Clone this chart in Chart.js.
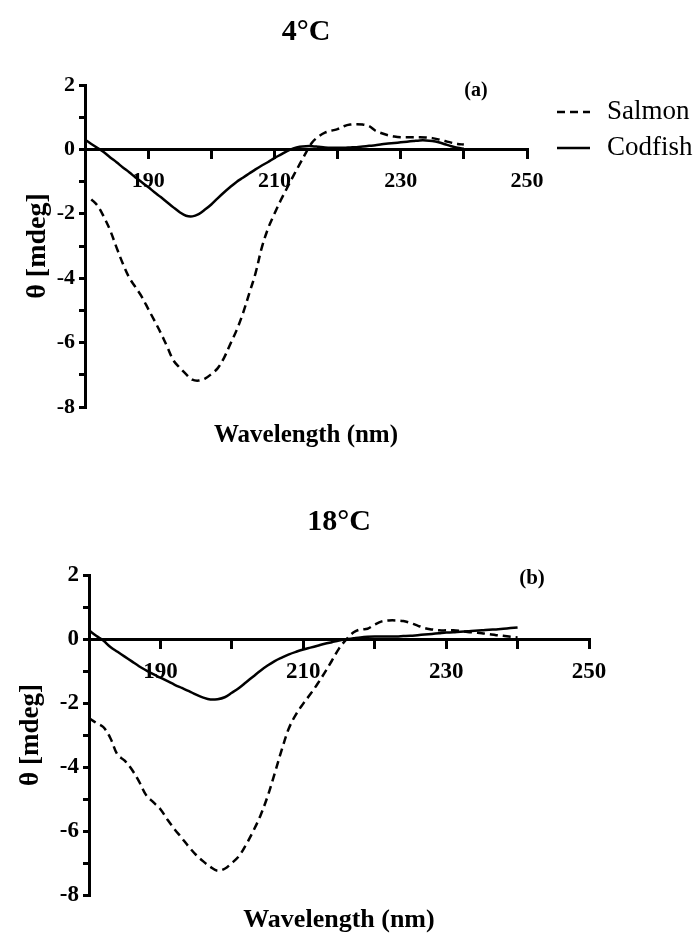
<!DOCTYPE html>
<html><head><meta charset="utf-8">
<script src="https://cdn.jsdelivr.net/npm/chart.js@4.4.1/dist/chart.umd.min.js"></script>
<style>
html,body{margin:0;padding:0;background:#fff;}
#wrap{position:relative;width:697px;height:936px;overflow:hidden;}
canvas{position:absolute;left:0;}
#c1{top:0;}
#c2{top:470px;}
</style></head><body>
<div id="wrap"><canvas id="c1" width="697" height="470"></canvas><canvas id="c2" width="697" height="466"></canvas></div>
<script>
// ---- data ----
const wavelengths = [180,181,182,183,184,185,186,187,188,189,190,191,192,193,194,195,196,197,198,199,200,201,202,203,204,205,206,207,208,209,210,211,212,213,214,215,216,217,218,219,220,221,222,223,224,225,226,227,228,229,230,231,232,233,234,235,236,237,238,239,240];
const salmon4 = [null,-1.55,-1.75,-2.10,-2.52,-3.05,-3.55,-3.98,-4.28,-4.58,-4.95,-5.32,-5.70,-6.12,-6.55,-6.78,-6.98,-7.15,-7.18,-7.12,-6.98,-6.80,-6.48,-6.05,-5.62,-5.10,-4.48,-3.85,-3.05,-2.45,-2.00,-1.58,-1.20,-0.82,-0.46,-0.10,0.22,0.40,0.52,0.58,0.63,0.72,0.77,0.78,0.77,0.72,0.58,0.50,0.44,0.40,0.38,0.38,0.38,0.38,0.37,0.35,0.31,0.26,0.21,0.17,0.15];
const codfish4 = [0.30,0.17,0.04,-0.09,-0.25,-0.40,-0.56,-0.71,-0.87,-1.02,-1.17,-1.33,-1.48,-1.64,-1.80,-1.95,-2.06,-2.08,-2.01,-1.87,-1.71,-1.52,-1.34,-1.17,-1.01,-0.88,-0.75,-0.62,-0.50,-0.39,-0.27,-0.16,-0.05,0.03,0.08,0.10,0.10,0.08,0.06,0.05,0.05,0.05,0.06,0.07,0.09,0.11,0.13,0.16,0.18,0.20,0.22,0.24,0.26,0.28,0.28,0.26,0.22,0.16,0.10,0.05,0.02];
const salmon18 = [-2.47,-2.62,-2.75,-3.10,-3.62,-3.80,-4.08,-4.45,-4.88,-5.10,-5.32,-5.65,-5.95,-6.22,-6.50,-6.75,-6.95,-7.12,-7.24,-7.18,-7.00,-6.78,-6.42,-6.00,-5.52,-4.92,-4.20,-3.45,-2.78,-2.35,-2.02,-1.72,-1.40,-1.05,-0.68,-0.30,-0.02,0.20,0.30,0.32,0.45,0.55,0.58,0.58,0.56,0.50,0.42,0.34,0.30,0.27,0.27,0.27,0.25,0.22,0.20,0.18,0.15,0.12,0.10,0.07,0.05];
const codfish18 = [0.27,0.10,-0.05,-0.25,-0.40,-0.55,-0.70,-0.85,-0.98,-1.10,-1.21,-1.32,-1.43,-1.53,-1.63,-1.74,-1.83,-1.89,-1.88,-1.82,-1.68,-1.53,-1.35,-1.17,-0.99,-0.83,-0.69,-0.58,-0.48,-0.40,-0.33,-0.27,-0.21,-0.15,-0.10,-0.05,-0.01,0.02,0.05,0.07,0.08,0.08,0.08,0.08,0.09,0.10,0.12,0.14,0.16,0.18,0.20,0.21,0.23,0.24,0.26,0.27,0.29,0.30,0.32,0.34,0.36];
const seriesNames = ['Salmon','Codfish'];
const xTickLabels = [190,210,230,250];
const yTickLabels = [2,0,-2,-4,-6,-8];
const panelTitles = ['4°C','18°C'];
const panelTags = ['(a)','(b)'];
const xTitle = 'Wavelength (nm)';
const yTitle = 'θ [mdeg]';

const FAM = "'Liberation Serif', 'Times New Roman', serif";
Chart.defaults.font.family = FAM;
Chart.defaults.color = '#000';

const annotate = {
  id: 'annotate',
  afterDraw(chart, args, opts) {
    const ctx = chart.ctx;
    ctx.save();
    ctx.fillStyle = '#000';
    (opts.texts || []).forEach(t => {
      ctx.font = t.font; ctx.textAlign = 'center'; ctx.textBaseline = 'middle';
      ctx.fillText(t.text, t.x, t.y);
    });
    if (opts.legend) {
      const L = opts.legend;
      chart.data.datasets.forEach((ds, i) => {
        const y = L.y + i * L.gap;
        ctx.beginPath();
        ctx.setLineDash(ds.borderDash || []);
        ctx.lineWidth = ds.borderWidth;
        ctx.strokeStyle = ds.borderColor;
        ctx.moveTo(L.x, y); ctx.lineTo(L.x + L.len, y); ctx.stroke();
        ctx.setLineDash([]);
        ctx.font = L.font; ctx.textAlign = 'left'; ctx.textBaseline = 'middle';
        ctx.fillText(ds.label, L.x + L.len + L.textGap, y);
      });
    }
    ctx.restore();
  }
};

function toXY(ys) { return wavelengths.map((w, i) => ({x: w, y: ys[i]})); }

function makeChart(el, salmon, codfish, g) {
  return new Chart(el, {
    type: 'line',
    data: {
      datasets: [
        {label: seriesNames[0], data: toXY(salmon), borderColor: '#000', borderWidth: 2.5, borderDash: [8,5], pointRadius: 0, tension: 0.35, fill: false, xAxisID: 'x', yAxisID: 'y'},
        {label: seriesNames[1], data: toXY(codfish), borderColor: '#000', borderWidth: 2.5, pointRadius: 0, tension: 0.35, fill: false, xAxisID: 'x', yAxisID: 'y'}
      ]
    },
    options: {
      responsive: false, animation: false, devicePixelRatio: 1,
      layout: {padding: {left: 0, top: 0, right: g.padRight, bottom: 0}},
      plugins: {
        legend: {display: false},
        tooltip: {enabled: false},
        title: {display: true, text: g.title, fullSize: false, color: '#000',
          font: {family: FAM, size: g.titleFont, weight: 'bold'},
          padding: {top: g.titlePadTop, bottom: g.titlePadBottom}},
        annotate: {texts: g.texts, legend: g.legend}
      },
      scales: {
        y: {
          type: 'linear', position: 'left', min: -8, max: 2,
          afterFit: s => { s.width = g.axisW; },
          ticks: {stepSize: 1, padding: 4, color: '#000',
            font: {family: FAM, size: g.tickFont, weight: 'bold'},
            callback: v => yTickLabels.includes(v) ? String(v) : ''},
          grid: {drawOnChartArea: false, drawTicks: true, tickLength: 6, tickWidth: 3, lineWidth: 3, tickColor: '#000', color: '#000'},
          border: {display: true, width: 3, color: '#000'},
          title: {display: true, text: yTitle, color: '#000',
            font: {family: FAM, size: g.yTitleFont, weight: 'bold'},
            padding: {top: g.yTitlePad, bottom: 0}}
        },
        x: {
          type: 'linear', axis: 'x', position: {y: 0}, min: 180, max: 250,
          afterFit: s => { s.height = 0; },
          ticks: {stepSize: 10, padding: g.xTickPad, autoSkip: false, maxRotation: 0, color: '#000',
            font: {family: FAM, size: g.tickFont, weight: 'bold'},
            callback: v => xTickLabels.includes(v) ? String(v) : ''},
          grid: {drawOnChartArea: false, drawTicks: true, tickLength: 8, tickWidth: 3, lineWidth: 3, tickColor: '#000', color: '#000'},
          border: {display: true, width: 3, color: '#000'}
        },
        xt: {
          type: 'linear', axis: 'x', position: 'bottom', min: 180, max: 250,
          ticks: {display: false},
          grid: {display: false},
          border: {display: false},
          title: {display: true, text: xTitle, color: '#000',
            font: {family: FAM, size: g.xTitleFont, weight: 'bold'},
            padding: {top: g.xTitlePadTop, bottom: g.xTitlePadBottom}}
        }
      }
    },
    plugins: [annotate]
  });
}

makeChart(document.getElementById('c1'), salmon4, codfish4, {
  title: panelTitles[0], axisW: 85, padRight: 170,
  titleFont: 30, titlePadTop: 14, titlePadBottom: 35,
  tickFont: 22, xTickPad: 11,
  yTitleFont: 28, yTitlePad: 21,
  xTitleFont: 25, xTitlePadTop: 6, xTitlePadBottom: 19,
  texts: [{text: panelTags[0], x: 476, y: 91, font: "bold 20px " + FAM}],
  legend: {x: 557, y: 112, gap: 36, len: 33, textGap: 17, font: "27px " + FAM}
});

makeChart(document.getElementById('c2'), salmon18, codfish18, {
  title: panelTitles[1], axisW: 89, padRight: 108,
  titleFont: 30, titlePadTop: 34, titlePadBottom: 35,
  tickFont: 23, xTickPad: 11,
  yTitleFont: 27, yTitlePad: 15,
  xTitleFont: 26, xTitlePadTop: 1.8, xTitlePadBottom: 0,
  texts: [{text: panelTags[1], x: 532, y: 109, font: "bold 21px " + FAM}],
  legend: null
});
</script>
</body></html>
